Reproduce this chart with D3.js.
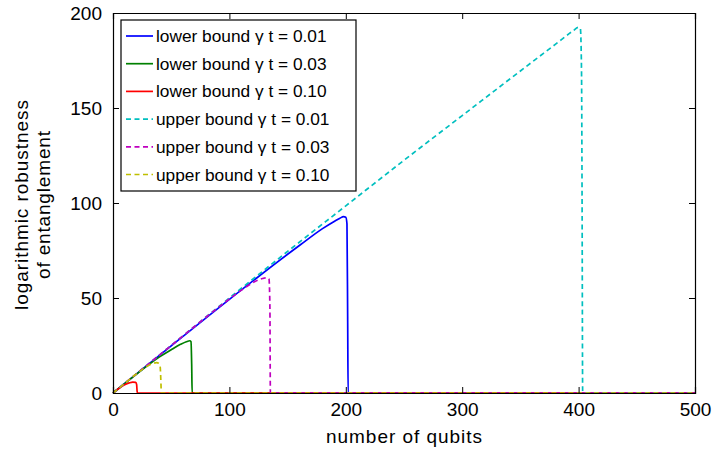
<!DOCTYPE html>
<html><head><meta charset="utf-8">
<script src="https://cdn.jsdelivr.net/npm/d3@7"></script>
<style>body{margin:0;background:#fff}svg{display:block;font-family:"Liberation Sans",Arial,sans-serif}</style>
</head><body><svg id="c" width="712" height="450"></svg>
<script>
// ---- data ----
const xTicks = [0, 100, 200, 300, 400, 500];
const yTicks = [0, 50, 100, 150, 200];
const seriesNames = ["lower bound \u03b3 t = 0.01","lower bound \u03b3 t = 0.03","lower bound \u03b3 t = 0.10",
                     "upper bound \u03b3 t = 0.01","upper bound \u03b3 t = 0.03","upper bound \u03b3 t = 0.10"];
const lower001X = [0, 50, 100, 150, 161, 180, 190, 195, 198, 200, 201, 201.6, 202, 500];
const lower001Y = [0, 24.8, 49.3, 73, 78, 86.5, 90.3, 92, 92.8, 92.5, 89, 40, 0, 0];
const lower003X = [0, 20, 40, 50, 58, 63, 66, 67, 67.6, 68, 500];
const lower003Y = [0, 9.8, 19, 22.8, 25.6, 27, 27.5, 27, 15, 0, 0];
const lower010X = [0, 5, 10, 14, 17, 19.5, 20.3, 20.7, 21, 500];
const lower010Y = [0, 2.4, 4.3, 5.3, 5.7, 5.6, 4.5, 1, 0, 0];
const upper001X = [0, 50, 100, 150, 200, 250, 300, 350, 380, 395, 400, 401.5, 402.5, 403, 403.5, 500];
const upper001Y = [0, 25, 50, 74.5, 98.5, 122.5, 146, 169.5, 183.5, 190.5, 192.5, 192, 170, 100, 0, 0];
const upper003X = [0, 50, 100, 110, 120, 126, 130, 132.5, 134, 134.8, 135.2, 500];
const upper003Y = [0, 25, 49.5, 54, 58, 59.8, 60.5, 60.7, 60, 45, 0, 0];
const upper010X = [0, 10, 20, 30, 35, 37.5, 39.5, 40.5, 41.2, 41.5, 500];
const upper010Y = [0, 5, 10, 14.3, 15.7, 16, 15.5, 14, 5, 0, 0];

const colors = ["#0000ff", "#008000", "#ff0000", "#00bfbf", "#bf00bf", "#bfbf00"];
const dashed = [false, false, false, true, true, true];
const allX = [lower001X, lower003X, lower010X, upper001X, upper003X, upper010X];
const allY = [lower001Y, lower003Y, lower010Y, upper001Y, upper003Y, upper010Y];

// ---- layout ----
const L = 113, T = 13, W = 582, H = 380;
const FONT = '"Liberation Sans",Arial,sans-serif';
const svg = d3.select("#c");
const x = d3.scaleLinear().domain([0, 500]).range([L, L + W]);
const y = d3.scaleLinear().domain([0, 200]).range([T + H, T]);

svg.append("rect").attr("x", 0).attr("y", 0).attr("width", 712).attr("height", 450).attr("fill", "#fff");

// series
const line = d3.line().x(d => x(d[0])).y(d => y(d[1])).curve(d3.curveMonotoneX);
allX.forEach((xs, i) => {
  const pts = xs.map((v, j) => [v, allY[i][j]]);
  svg.append("path").attr("d", line(pts)).attr("fill", "none")
    .attr("stroke", colors[i]).attr("stroke-width", 1.7)
    .attr("stroke-dasharray", dashed[i] ? "5,3.5" : null);
});

// axes
const fs = 19;
const gx = svg.append("g").attr("transform", `translate(0,${T + H})`)
  .call(d3.axisBottom(x).tickValues(xTicks).tickSize(-6).tickPadding(10).tickFormat(d3.format("d")));
const gxt = svg.append("g").attr("transform", `translate(0,${T})`)
  .call(d3.axisTop(x).tickValues(xTicks).tickSize(-6).tickFormat(""));
const gy = svg.append("g").attr("transform", `translate(${L},0)`)
  .call(d3.axisLeft(y).tickValues(yTicks).tickSize(-6).tickPadding(11).tickFormat(d3.format("d")));
const gyr = svg.append("g").attr("transform", `translate(${L + W},0)`)
  .call(d3.axisRight(y).tickValues(yTicks).tickSize(-6).tickFormat(""));
[gx, gxt, gy, gyr].forEach(g => {
  g.selectAll(".domain").attr("stroke", "#000").attr("stroke-width", 1.2);
  g.selectAll(".tick line").attr("stroke", "#000").attr("stroke-width", 1);
  g.selectAll("text").attr("font-size", fs).attr("font-family", FONT).attr("fill", "#000");
});

// axis labels
svg.append("text").attr("x", L + W / 2).attr("y", 443).attr("text-anchor", "middle")
  .attr("font-size", fs).attr("textLength", 156).attr("lengthAdjust", "spacing").text("number of qubits");
const yl = svg.append("g").attr("transform", `translate(0,${205}) rotate(-90)`);
yl.append("text").attr("x", 0).attr("y", 28).attr("text-anchor", "middle").attr("font-size", fs)
  .attr("textLength", 210).attr("lengthAdjust", "spacing").text("logarithmic robustness");
yl.append("text").attr("x", 0).attr("y", 50).attr("text-anchor", "middle").attr("font-size", fs)
  .attr("textLength", 148).attr("lengthAdjust", "spacing").text("of entanglement");

// legend
const lg = svg.append("g");
lg.append("rect").attr("x", 121).attr("y", 20).attr("width", 235).attr("height", 171)
  .attr("fill", "#fff").attr("stroke", "#000").attr("stroke-width", 1.2);
seriesNames.forEach((n, i) => {
  const cy = 36 + i * 27.7;
  lg.append("line").attr("x1", 126).attr("x2", 153).attr("y1", cy).attr("y2", cy)
    .attr("stroke", colors[i]).attr("stroke-width", 1.7)
    .attr("stroke-dasharray", dashed[i] ? "5,3.5" : null);
  lg.append("text").attr("x", 156).attr("y", cy).attr("dy", "0.35em").attr("font-size", 17.3).text(n);
});
</script></body></html>
